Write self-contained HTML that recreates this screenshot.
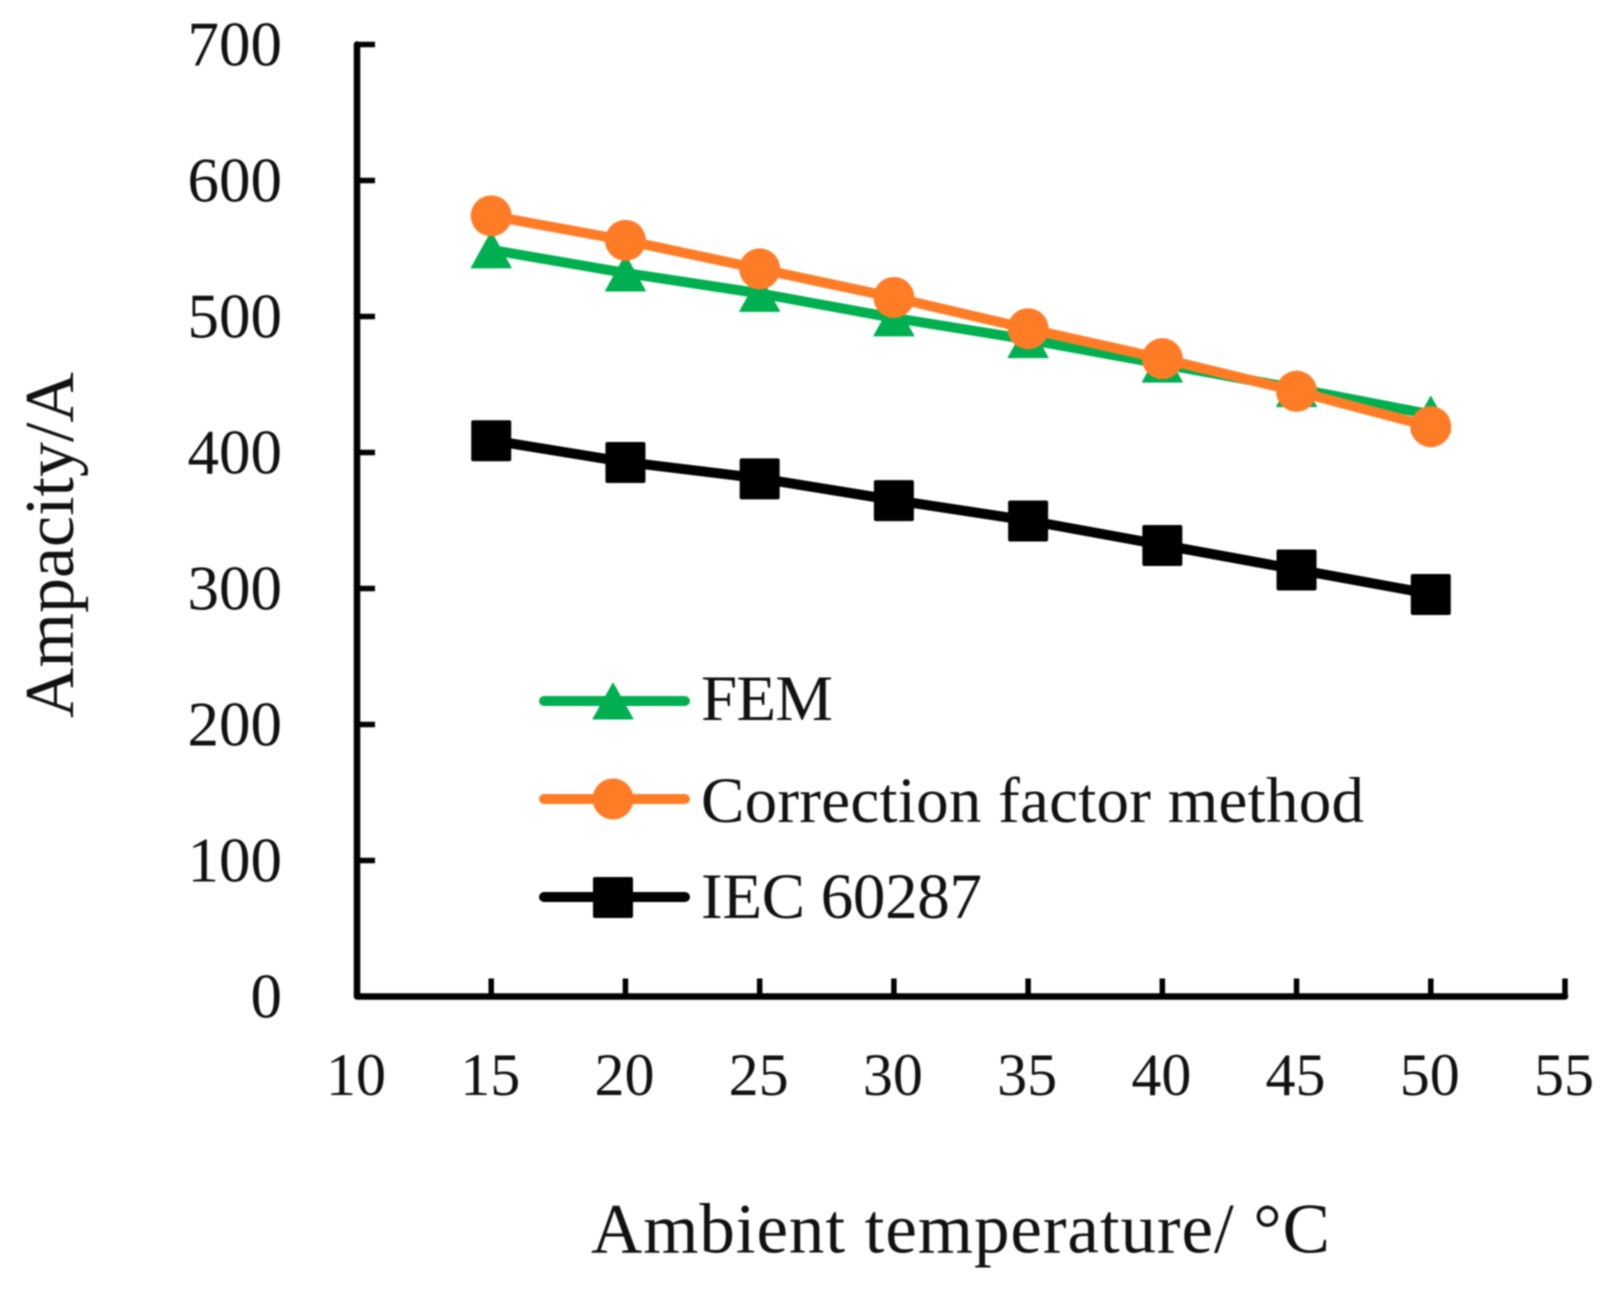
<!DOCTYPE html>
<html lang="en">
<head>
<meta charset="utf-8">
<title>Ampacity vs ambient temperature</title>
<style>
  html, body { margin: 0; padding: 0; background: #fff; }
  #chart { display: block; width: 1615px; height: 1289px; filter: blur(0.7px); }
  text { font-family: "Liberation Serif", serif; fill: #111; }
</style>
</head>
<body>
<svg id="chart" xmlns="http://www.w3.org/2000/svg" width="1615" height="1289" viewBox="0 0 1615 1289">
  <g id="axes"></g>
  <g id="series"></g>
  <g id="legend"></g>
  <text x="591" y="1252.5" font-size="71" textLength="739" lengthAdjust="spacing">Ambient temperature/ °C</text>
  <text transform="translate(73,718) rotate(-90)" font-size="70" textLength="346" lengthAdjust="spacing">Ampacity/A</text>
</svg>
<script>
const temperatures = [15, 20, 25, 30, 35, 40, 45, 50];
const femValues = [549, 532, 517, 499, 483, 465, 447, 428];
const correctionValues = [574, 556, 535, 514, 491, 469, 445, 419];
const iecValues = [409, 393, 381, 365, 350, 332, 314, 296];
const xTickLabels = [10, 15, 20, 25, 30, 35, 40, 45, 50, 55];
const yTickLabels = [0, 100, 200, 300, 400, 500, 600, 700];
const legendLabels = ['FEM', 'Correction factor method', 'IEC 60287'];

const SVG_NS = 'http://www.w3.org/2000/svg';
const GREEN = '#00B050', ORANGE = '#FF7C26', BLACK = '#000000';
const xAt = v => 357 + (v - 10) * (1208 / 45);
const yAt = v => 996.5 - v * 1.36;

function make(parent, tag, attrs) {
  const el = document.createElementNS(SVG_NS, tag);
  for (const k in attrs) el.setAttribute(k, attrs[k]);
  parent.appendChild(el);
  return el;
}

function drawMarker(parent, kind, x, y, color) {
  let el;
  if (kind === 'triangle') {
    el = make(parent, 'polygon', { points: `${x},${y - 18} ${x + 20},${y + 18} ${x - 20},${y + 18}`, fill: color, stroke: color, 'stroke-width': 1, 'stroke-linejoin': 'round' });
  } else if (kind === 'circle') {
    el = make(parent, 'circle', { cx: x, cy: y, r: 20.5, fill: color });
  } else {
    el = make(parent, 'rect', { x: x - 20, y: y - 20, width: 40, height: 41, rx: 2, fill: color });
  }
  return el;
}

const axes = document.getElementById('axes');
const axisPath = make(axes, 'path', { d: `M${xAt(10)} ${yAt(700)}V${yAt(0)}H${xAt(55)}`, fill: 'none', stroke: '#000', 'stroke-width': 6.5, 'stroke-linejoin': 'round', 'stroke-linecap': 'round' });



for (const t of yTickLabels) {
  const y = yAt(t);
  if (t > 0) {
    const tick = make(axes, 'line', { x1: xAt(10), x2: xAt(10) + 18, y1: y, y2: y, stroke: '#000', 'stroke-width': 5.5 });
    
    
  }
  const label = make(axes, 'text', { x: 282, y: y + 21, 'font-size': 63, 'text-anchor': 'end' });
  label.textContent = t;
  
  
}

for (const t of xTickLabels) {
  const x = xAt(t);
  if (t > 10) {
    const tick = make(axes, 'line', { x1: x, x2: x, y1: yAt(0), y2: yAt(0) - 18, stroke: '#000', 'stroke-width': 5.5 });
    
    
  }
  const label = make(axes, 'text', { x: x - 1, y: 1095, 'font-size': 60, 'text-anchor': 'middle' });
  label.textContent = t;
  
  
}

const seriesRoot = document.getElementById('series');
function drawSeries(values, color, kind, name) {
  const line = make(seriesRoot, 'polyline', {
    points: values.map((v, i) => `${xAt(temperatures[i])},${yAt(v)}`).join(' '),
    fill: 'none', stroke: color, 'stroke-width': 10, 'stroke-linejoin': 'round'
  });
  
  
  values.forEach((v, i) => {
    const m = drawMarker(seriesRoot, kind, xAt(temperatures[i]), yAt(v), color);
    
    
  });
}
drawSeries(femValues, GREEN, 'triangle', 'fem');
drawSeries(correctionValues, ORANGE, 'circle', 'correction-factor');
drawSeries(iecValues, BLACK, 'square', 'iec-60287');

const legendRoot = document.getElementById('legend');
const legendColors = [GREEN, ORANGE, BLACK];
const legendKinds = ['triangle', 'circle', 'square'];
const legendRowY = [701, 799, 897];
const legendBaseY = [720, 822, 918];
const legendWidths = [132, 663, 281];
legendLabels.forEach((text, i) => {
  const y = legendRowY[i];
  const line = make(legendRoot, 'line', { x1: 544, x2: 685, y1: y, y2: y, stroke: legendColors[i], 'stroke-width': 10, 'stroke-linecap': 'round' });
  
  
  const marker = drawMarker(legendRoot, legendKinds[i], 613, y, legendColors[i]);
  
  
  const label = make(legendRoot, 'text', { x: 701, y: legendBaseY[i], 'font-size': 65, textLength: legendWidths[i], lengthAdjust: 'spacing' });
  label.textContent = text;
  
  
});
</script>
</body>
</html>
